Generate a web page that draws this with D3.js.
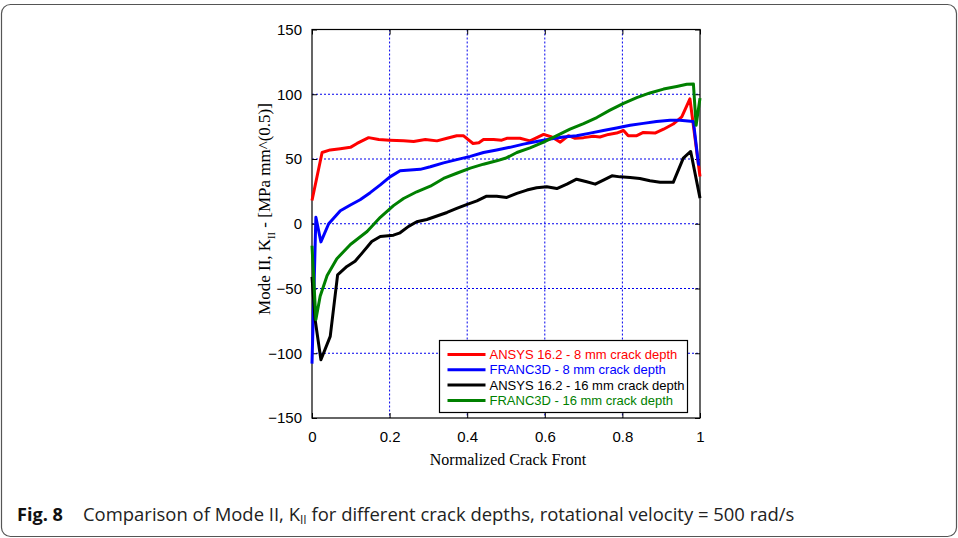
<!DOCTYPE html>
<html>
<head>
<meta charset="utf-8">
<script src="https://cdn.jsdelivr.net/npm/d3@7"></script>
<style>
  body { margin: 0; background: #fff; }
  svg { display: block; }
</style>
</head>
<body>
<svg id="svg" width="958" height="538"></svg>
<script>
let svg = d3.select("#svg");
let margin = { top: 29.5, right: 258, bottom: 120, left: 312 };
let width = 388, height = 388.5;

let xTicks = [0, 0.2, 0.4, 0.6, 0.8, 1];
let yTicks = [-150, -100, -50, 0, 50, 100, 150];

let redX = [0, 0.026, 0.047, 0.073, 0.099, 0.116, 0.146, 0.172, 0.2, 0.236, 0.262, 0.292, 0.322, 0.348, 0.373, 0.39, 0.415, 0.43, 0.442, 0.468, 0.489, 0.502, 0.536, 0.562, 0.597, 0.618, 0.64, 0.661, 0.678, 0.7, 0.725, 0.742, 0.764, 0.785, 0.803, 0.815, 0.837, 0.854, 0.884, 0.906, 0.931, 0.953, 0.974, 1.0];
let redY = [18, 55, 57, 58, 59, 62, 66.5, 65, 64.5, 64, 63.5, 65, 64, 66, 68, 68, 62, 62.5, 65, 65, 64.5, 66, 66, 64, 69, 67, 63, 68, 66, 66.5, 67.5, 67, 69, 70, 72, 68, 68, 70.5, 70, 73, 77, 82.5, 96.5, 36.5];

let blueX = [0, 0.01, 0.023, 0.043, 0.073, 0.099, 0.124, 0.15, 0.176, 0.2, 0.227, 0.253, 0.279, 0.305, 0.339, 0.373, 0.408, 0.442, 0.476, 0.51, 0.545, 0.579, 0.614, 0.648, 0.682, 0.717, 0.751, 0.785, 0.82, 0.854, 0.888, 0.923, 0.948, 0.983, 0.996, 1.0];
let blueY = [-108, 5, -14, 0, 10, 14.5, 18.5, 24, 30, 36, 41, 41.5, 42, 44, 47, 49.5, 52, 55, 57, 59, 61.5, 63.5, 65.5, 67, 68, 70, 72, 74, 76, 77.5, 79, 80, 80, 79, 46, 46];

let blackX = [0, 0.008, 0.023, 0.047, 0.066, 0.09, 0.111, 0.129, 0.154, 0.176, 0.21, 0.227, 0.249, 0.27, 0.296, 0.322, 0.348, 0.373, 0.4, 0.425, 0.45, 0.476, 0.502, 0.528, 0.554, 0.579, 0.605, 0.631, 0.657, 0.682, 0.708, 0.73, 0.751, 0.773, 0.794, 0.82, 0.845, 0.871, 0.897, 0.931, 0.957, 0.976, 1.0];
let blackY = [-41, -74, -105, -87, -39.5, -33, -29, -22.7, -13.7, -9.8, -8.8, -7, -2, 1.5, 3.3, 6, 8.7, 11.8, 15, 17.7, 21.3, 21.3, 20.3, 23.4, 26, 27.8, 28.5, 27.2, 30.6, 34.4, 32.4, 30.6, 33.7, 37, 36.2, 35.7, 35, 33.2, 32, 32, 50.7, 55.8, 19.8];

let greenX = [0, 0.01, 0.021, 0.039, 0.064, 0.099, 0.142, 0.176, 0.21, 0.236, 0.27, 0.305, 0.339, 0.373, 0.408, 0.442, 0.476, 0.502, 0.528, 0.562, 0.597, 0.631, 0.665, 0.7, 0.734, 0.768, 0.803, 0.837, 0.871, 0.906, 0.94, 0.966, 0.983, 0.99, 1.0];
let greenY = [-17, -74, -56, -40, -27, -16, -6, 5, 14, 19.5, 24.7, 29, 35, 39, 43, 46, 48.6, 51, 55, 58.6, 63, 68, 73, 77.4, 82, 87.7, 93, 97.4, 101, 104, 106, 107.7, 108, 76, 97];

let seriesNames = ["ANSYS 16.2 - 8 mm crack depth", "FRANC3D - 8 mm crack depth", "ANSYS 16.2 - 16 mm crack depth", "FRANC3D - 16 mm crack depth"];
let seriesColors = ["#ff0000", "#0000ff", "#000000", "#008000"];
let seriesX = [redX, blueX, blackX, greenX];
let seriesY = [redY, blueY, blackY, greenY];

// outer frame
svg.append("rect")
    .attr("x", 1.5).attr("y", 4.5).attr("width", 955).attr("height", 532)
    .attr("rx", 9).attr("fill", "none").attr("stroke", "#555").attr("stroke-width", 1.2);

let xScale = d3.scaleLinear().domain([0, 1]).range([0, width]);
let yScale = d3.scaleLinear().domain([-150, 150]).range([height, 0]);

let plot = svg.append("g").attr("transform", `translate(${margin.left}, ${margin.top})`);

// grid
let grid = plot.append("g");
grid.selectAll(".gx").data(xTicks.slice(1, -1)).join("line")
    .attr("x1", d => xScale(d)).attr("x2", d => xScale(d))
    .attr("y1", 0).attr("y2", height);
grid.selectAll(".gy").data(yTicks.slice(1, -1)).join("line")
    .attr("x1", 0).attr("x2", width)
    .attr("y1", d => yScale(d)).attr("y2", d => yScale(d));
grid.selectAll("line")
    .attr("stroke", "#0000ee").attr("stroke-width", 1).attr("stroke-dasharray", "2,2");

// axes with inward ticks
let axisFont = "'Liberation Sans', Arial, sans-serif";
let xAxis = plot.append("g").attr("transform", `translate(0, ${height})`)
    .call(d3.axisBottom(xScale).tickValues(xTicks).tickSizeInner(-5).tickSizeOuter(0).tickPadding(13).tickFormat(d3.format("")));
let yAxis = plot.append("g")
    .call(d3.axisLeft(yScale).tickValues(yTicks).tickSizeInner(-5).tickSizeOuter(0).tickPadding(10));
let xTop = plot.append("g")
    .call(d3.axisTop(xScale).tickValues(xTicks).tickSizeInner(-5).tickSizeOuter(0).tickFormat(""));
let yRight = plot.append("g").attr("transform", `translate(${width}, 0)`)
    .call(d3.axisRight(yScale).tickValues(yTicks).tickSizeInner(-5).tickSizeOuter(0).tickFormat(""));
[xAxis, yAxis, xTop, yRight].forEach(a => {
    a.select(".domain").remove();
    a.selectAll("line").attr("stroke", "#000");
    a.selectAll("text").attr("font-family", axisFont).attr("font-size", 15).attr("fill", "#000");
});

plot.append("rect").attr("width", width).attr("height", height)
    .attr("fill", "none").attr("stroke", "#000").attr("stroke-width", 1.2);

// series
let line = d3.line().x(d => xScale(d[0])).y(d => yScale(d[1]));
seriesX.forEach((xs, i) => {
    let pts = xs.map((x, j) => [x, seriesY[i][j]]);
    plot.append("path").datum(pts)
        .attr("d", line)
        .attr("fill", "none")
        .attr("stroke", seriesColors[i])
        .attr("stroke-width", 3)
        .attr("stroke-linejoin", "round");
});

// legend
let legend = svg.append("g").attr("transform", "translate(439.5, 340.5)");
legend.append("rect").attr("width", 248).attr("height", 72)
    .attr("fill", "#fff").attr("stroke", "#000").attr("stroke-width", 1.2);
seriesNames.forEach((name, i) => {
    let y = 14 + i * 15.3;
    legend.append("line").attr("x1", 8).attr("x2", 46).attr("y1", y).attr("y2", y)
        .attr("stroke", seriesColors[i]).attr("stroke-width", 3);
    legend.append("text").attr("x", 50).attr("y", y + 4.5)
        .attr("font-family", axisFont).attr("font-size", 13)
        .attr("fill", seriesColors[i]).text(name);
});

// axis titles
let serif = "'Liberation Serif', 'Times New Roman', serif";
svg.append("text").attr("x", 508).attr("y", 465)
    .attr("text-anchor", "middle").attr("font-family", serif).attr("font-size", 16)
    .text("Normalized Crack Front");

let yl = svg.append("text")
    .attr("transform", "translate(270, 209) rotate(-90)")
    .attr("text-anchor", "middle").attr("font-family", serif).attr("font-size", 17);
yl.append("tspan").text("Mode II, K");
yl.append("tspan").attr("font-size", 10.5).attr("dy", 5).text("II");
yl.append("tspan").attr("dy", -5).text(" - [MPa mm^(0.5)]");

// caption
let capFont = "'Open Sans', 'Noto Sans', sans-serif";
let fig = svg.append("text").attr("x", 17).attr("y", 521)
    .attr("font-family", capFont).attr("font-size", 18.5).attr("font-weight", "bold")
    .attr("fill", "#111").text("Fig. 8");
let fw = fig.node().getComputedTextLength();
fig.attr("transform", `translate(17,0) scale(${46 / fw},1) translate(-17,0)`);

let cap = svg.append("text").attr("x", 0).attr("y", 521)
    .attr("font-family", capFont).attr("font-size", 18.5).attr("fill", "#222");
cap.append("tspan").text("Comparison of Mode II, K");
cap.append("tspan").attr("font-size", 12).attr("dy", 3).text("II");
cap.append("tspan").attr("dy", -3).text(" for different crack depths, rotational velocity = 500 rad/s");
let cw = cap.node().getComputedTextLength();
cap.attr("transform", `translate(83,0) scale(${712 / cw},1)`);
</script>
</body>
</html>
